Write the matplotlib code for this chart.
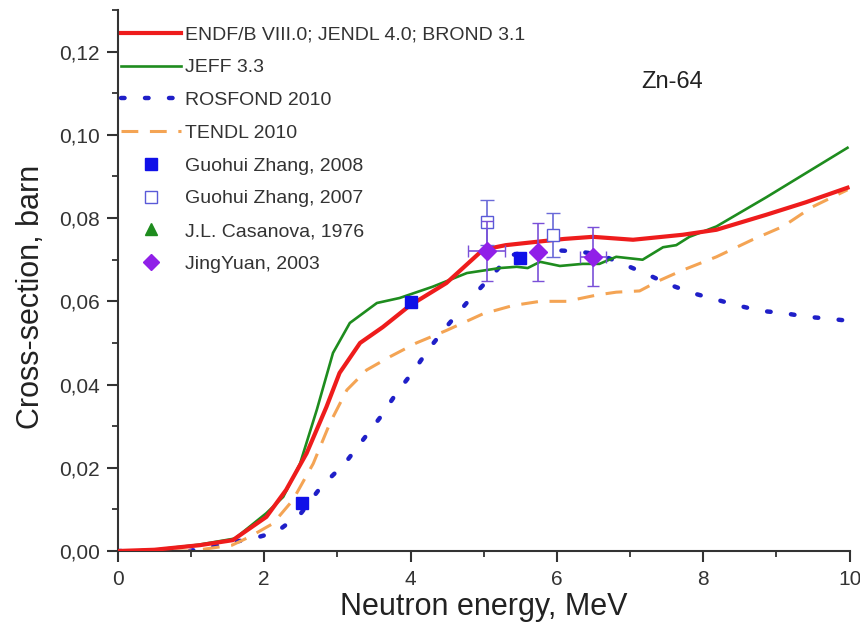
import matplotlib.pyplot as plt
import matplotlib.ticker as mticker
from matplotlib.lines import Line2D

plt.rcParams['font.family'] = ['Liberation Sans', 'DejaVu Sans']

# ENDF/B VIII.0; JENDL 4.0; BROND 3.1
endf_x = [0.0, 0.5, 1.12, 1.57, 2.03, 2.3, 2.58, 2.85, 3.03, 3.31, 3.62, 3.99, 4.49, 4.99,
          5.3, 5.72, 6.1, 6.49, 7.04, 7.72, 8.18, 8.86, 9.4, 9.97]
endf_y = [0.0, 0.0003, 0.0014, 0.0026, 0.0082, 0.0147, 0.0235, 0.0346, 0.0428, 0.050, 0.0538,
          0.059, 0.0644, 0.0724, 0.0735, 0.0743, 0.075, 0.0755, 0.0748, 0.076, 0.0772, 0.0808,
          0.0838, 0.0873]

# JEFF 3.3
jeff_x = [0.0, 0.5, 1.1, 1.6, 2.03, 2.26, 2.49, 2.72, 2.94, 3.17, 3.54, 3.85, 4.3, 4.77,
          5.22, 5.45, 5.6, 5.77, 6.04, 6.35, 6.58, 6.81, 7.17, 7.45, 7.63, 7.81, 8.18, 8.86, 9.97]
jeff_y = [0.0, 0.0003, 0.0015, 0.003, 0.0091, 0.013, 0.021, 0.034, 0.0476, 0.0548, 0.0596,
          0.0608, 0.0635, 0.0668, 0.068, 0.0683, 0.068, 0.0695, 0.0685, 0.069, 0.069, 0.0707,
          0.070, 0.073, 0.0735, 0.0755, 0.078, 0.085, 0.0969]

# ROSFOND 2010
rosfond_x = [0.0, 0.98, 1.53, 1.85, 2.17, 2.5, 2.78, 3.1, 3.35, 3.58, 3.81, 4.03, 4.26, 4.51,
             4.78, 5.05, 5.36, 5.65, 5.95, 6.27, 6.58, 6.9, 7.22, 7.54, 7.85, 8.16, 8.47,
             8.79, 9.09, 9.41, 9.73, 10.0]
rosfond_y = [0.0, 0.0, 0.002, 0.003, 0.0046, 0.009, 0.0155, 0.021, 0.0267, 0.032, 0.038,
             0.043, 0.0488, 0.0543, 0.0599, 0.065, 0.071, 0.0722, 0.0723, 0.072, 0.0713,
             0.069, 0.0666, 0.064, 0.062, 0.0605, 0.059, 0.0577, 0.0572, 0.0563, 0.0558,
             0.0553]

# TENDL 2010
tendl_x = [0.0, 1.0, 1.56, 1.8, 2.12, 2.39, 2.67, 2.9, 3.13, 3.4, 3.72, 4.08, 4.49, 4.99,
           5.4, 5.77, 6.13, 6.54, 6.81, 7.13, 7.4, 7.72, 8.18, 8.67, 9.09, 9.49, 9.97]
tendl_y = [0.0, 0.0, 0.0014, 0.0034, 0.0066, 0.0122, 0.021, 0.0308, 0.0387, 0.0435, 0.0467,
           0.050, 0.053, 0.057, 0.059, 0.060, 0.060, 0.0615, 0.0622, 0.0625, 0.065, 0.0675,
           0.0707, 0.0748, 0.078, 0.0827, 0.0868]

# experiments
zhang08_x = [2.51, 4.0, 5.49]
zhang08_y = [0.0115, 0.0599, 0.0704]

zhang07_x = [5.04, 5.95]
zhang07_y = [0.079, 0.076]
zhang07_err = [0.0054, 0.0053]

jing_x = [5.04, 5.74, 6.49]
jing_y = [0.0721, 0.0719, 0.0707]
jing_yerr = [0.0072, 0.0069, 0.0071]
jing_xerr = [0.25, 0.0, 0.18]

labels = ['ENDF/B VIII.0; JENDL 4.0; BROND 3.1', 'JEFF 3.3', 'ROSFOND 2010', 'TENDL 2010',
          'Guohui Zhang, 2008', 'Guohui Zhang, 2007', 'J.L. Casanova, 1976', 'JingYuan, 2003']

c_endf, c_jeff, c_ros, c_tendl = '#ee1c1c', '#1e8c1e', '#1f1fc8', '#f4a454'
c_sq, c_open, c_dia = '#1010e8', '#5a5ad8', '#9020e8'

fig = plt.figure(figsize=(8.6, 6.28), dpi=100)
ax = fig.add_axes([0.137, 0.1226, 0.851, 0.8614])

ax.plot(rosfond_x, rosfond_y, color=c_ros, lw=3.2, linestyle=(0, (0.8, 4.6)),
        dash_capstyle='round', zorder=2)
ax.plot(tendl_x, tendl_y, color=c_tendl, lw=2.2, linestyle=(0, (5.5, 3.8)), zorder=2)
ax.plot(jeff_x, jeff_y, color=c_jeff, lw=1.9, zorder=3)
ax.plot(endf_x, endf_y, color=c_endf, lw=3.0, zorder=3)

ax.errorbar(zhang07_x, zhang07_y, yerr=zhang07_err, fmt='s', ms=8, mfc='white',
            mec=c_open, ecolor='#6a6ad8', elinewidth=1.2, capsize=5, zorder=4)
ax.errorbar(jing_x, jing_y, yerr=jing_yerr, xerr=jing_xerr, fmt='D', ms=9, color=c_dia,
            ecolor='#7a50d8', elinewidth=1.2, capsize=4, zorder=5)
ax.plot(zhang08_x, zhang08_y, 's', ms=9, color=c_sq, zorder=5)

ax.set_xlim(0, 10)
ax.set_ylim(0, 0.13)
ax.xaxis.set_major_locator(mticker.MultipleLocator(2))
ax.xaxis.set_minor_locator(mticker.MultipleLocator(1))
ax.yaxis.set_major_locator(mticker.MultipleLocator(0.02))
ax.yaxis.set_minor_locator(mticker.MultipleLocator(0.01))
ax.yaxis.set_major_formatter(mticker.FuncFormatter(lambda v, p: f'{v:.2f}'.replace('.', ',')))
ax.xaxis.set_major_formatter(mticker.FuncFormatter(lambda v, p: f'{v:.0f}'))

for s in ['top', 'right']:
    ax.spines[s].set_visible(False)
for s in ['left', 'bottom']:
    ax.spines[s].set_linewidth(1.5)
    ax.spines[s].set_color('#333333')
ax.tick_params(which='major', length=8, width=1.5, color='#333333', labelsize=15,
               labelcolor='#333333')
ax.tick_params(which='minor', length=4, width=1.3, color='#333333')
ax.tick_params(axis='y', pad=5)
ax.tick_params(axis='x', pad=6)

ax.set_xlabel('Neutron energy, MeV', fontsize=22, color='#222222', labelpad=2)
ax.set_ylabel('Cross-section, barn', fontsize=22, color='#222222')
ax.yaxis.set_label_coords(-0.098, 0.47)

ax.text(0.758, 0.867, 'Zn-64', transform=ax.transAxes, fontsize=17, color='#222222',
        ha='center', va='center')

handles = [
    Line2D([], [], color=c_endf, lw=3.0),
    Line2D([], [], color=c_jeff, lw=1.9),
    Line2D([], [], color=c_ros, lw=3.2, linestyle=(0, (0.8, 4.6)), dash_capstyle='round'),
    Line2D([], [], color=c_tendl, lw=2.2, linestyle=(0, (5.5, 3.8))),
    Line2D([], [], ls='none', marker='s', ms=8, color=c_sq),
    Line2D([], [], ls='none', marker='s', ms=8, mfc='white', mec=c_open),
    Line2D([], [], ls='none', marker='^', ms=9, color=c_jeff),
    Line2D([], [], ls='none', marker='D', ms=8, color=c_dia),
]
leg = ax.legend(handles, labels, loc='upper left', frameon=False,
                fontsize=14, handlelength=3.1, handletextpad=0.2, labelspacing=0.78,
                borderaxespad=0.0, bbox_to_anchor=(0.0, 0.976), borderpad=0.15)
for t in leg.get_texts():
    t.set_color('#333333')

fig.savefig('out.png', dpi=100)
